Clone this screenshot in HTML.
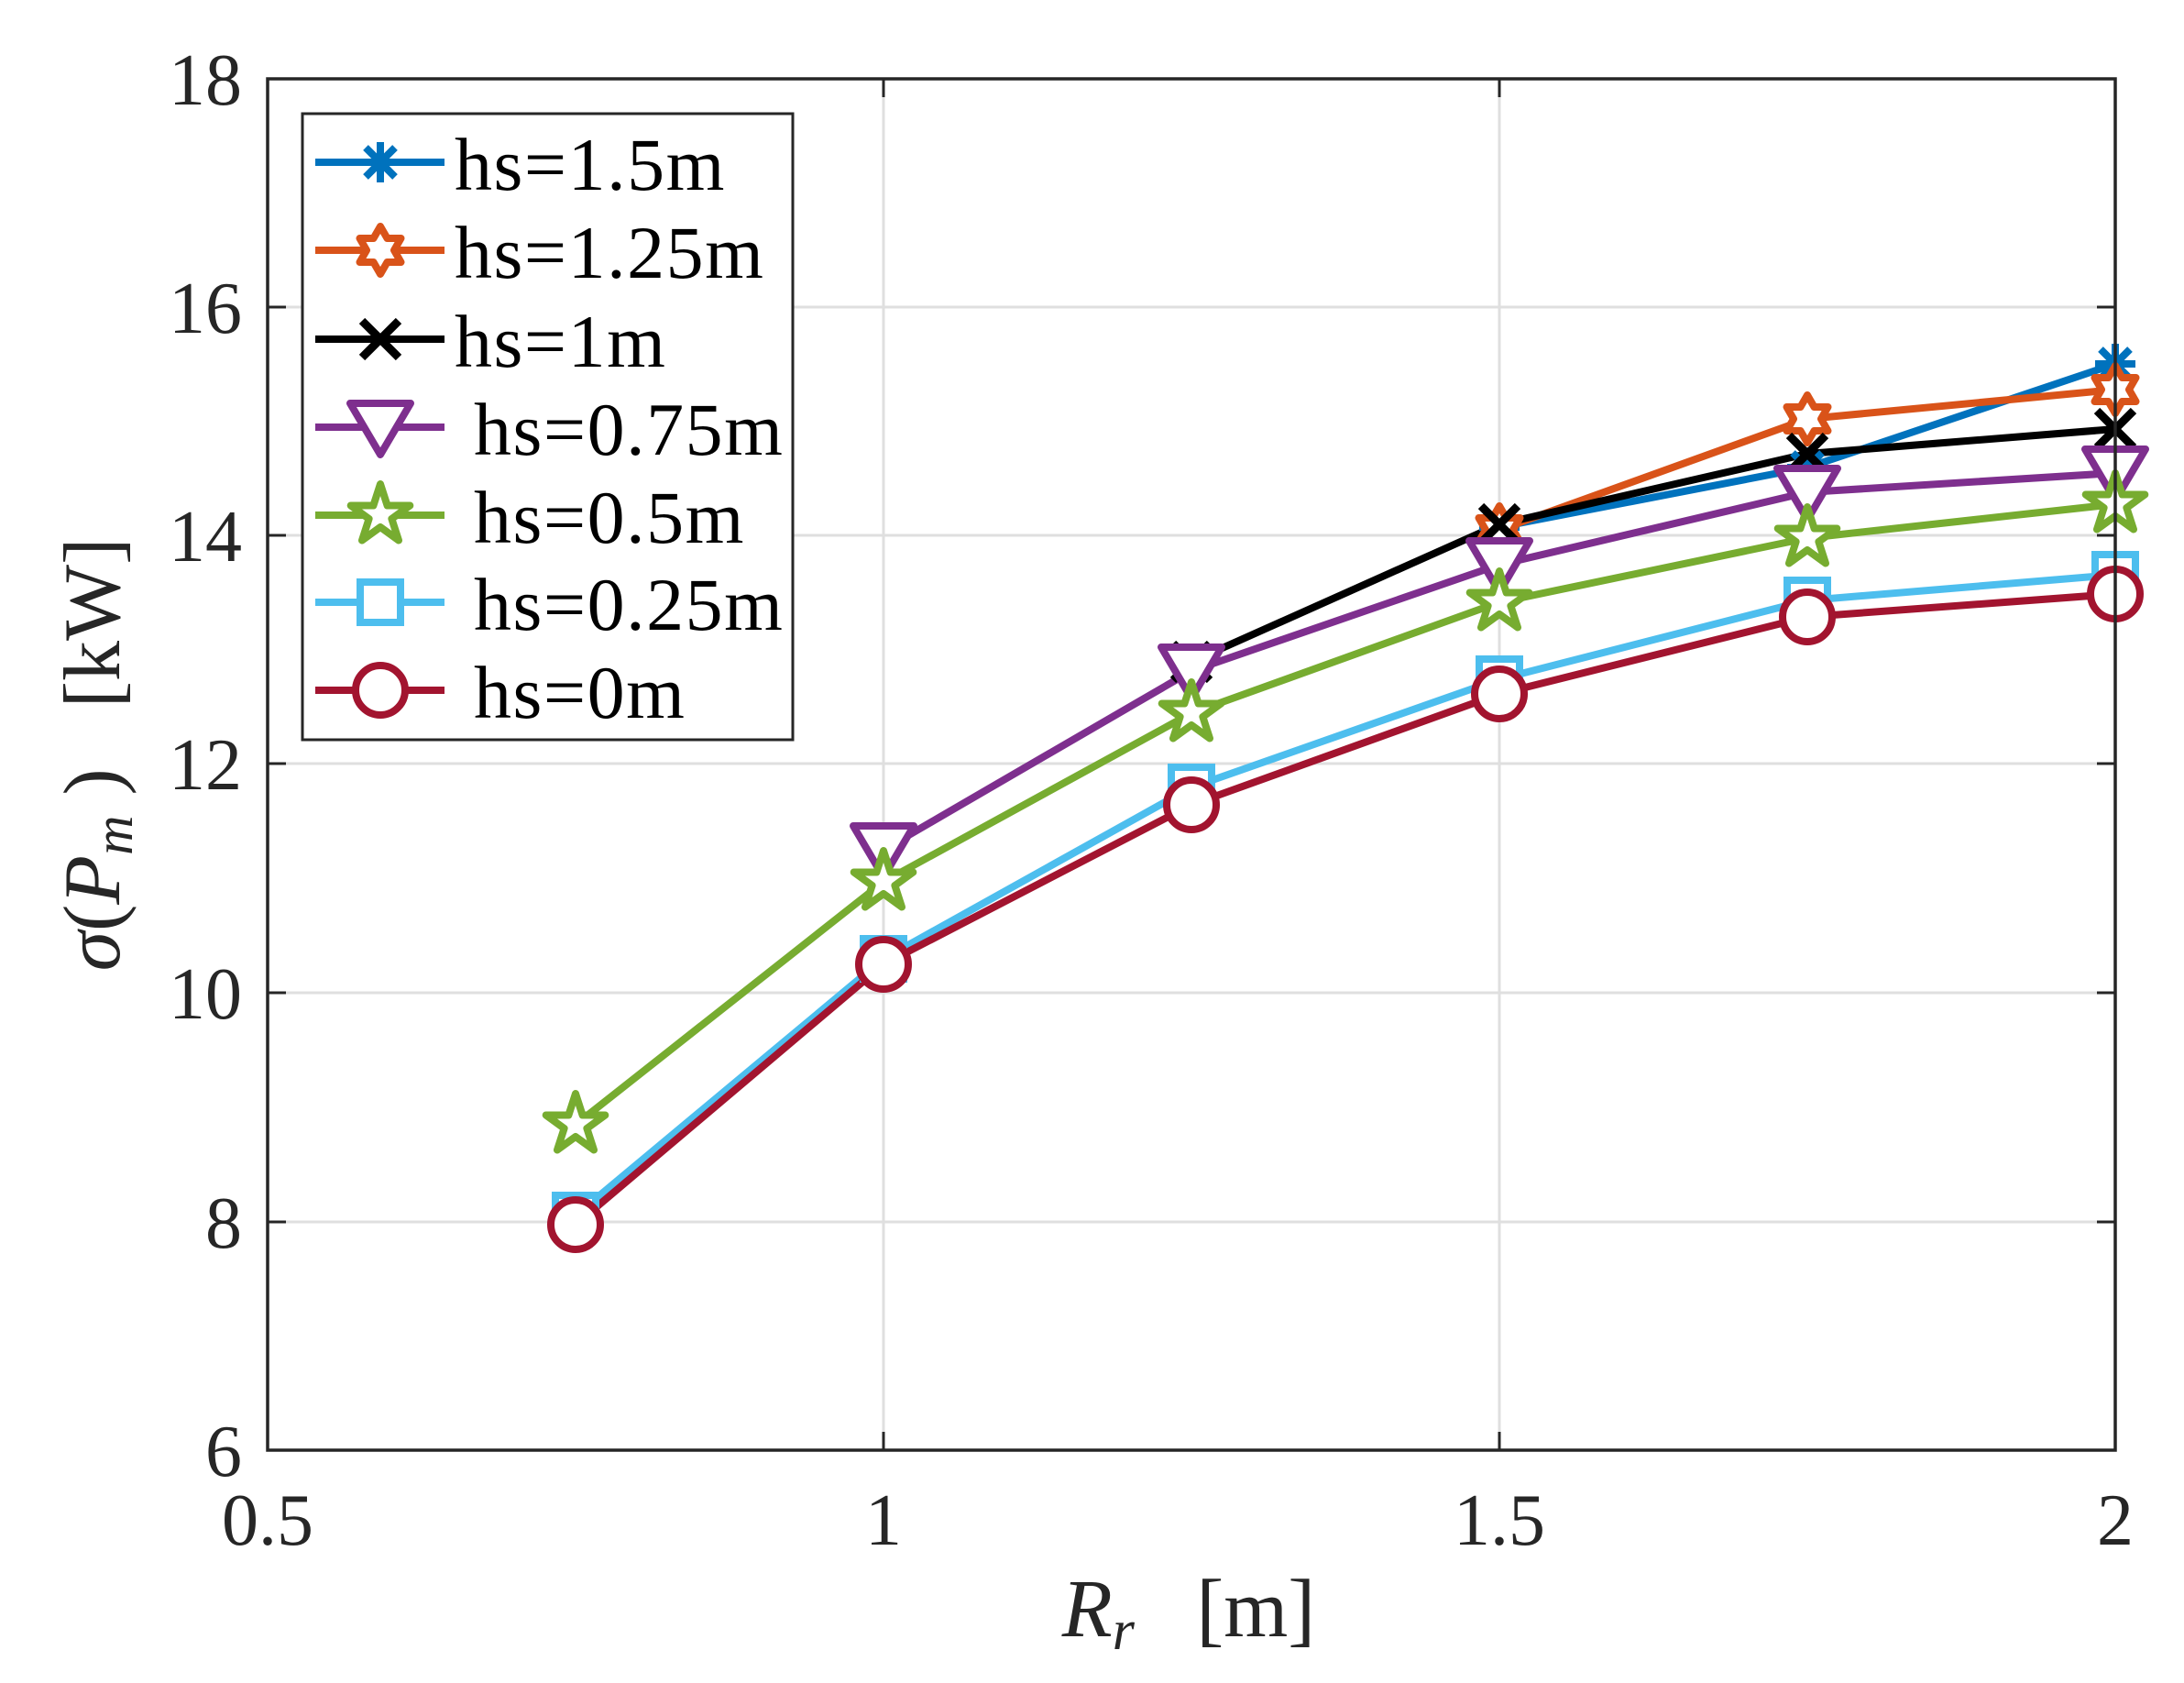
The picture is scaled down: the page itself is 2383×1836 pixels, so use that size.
<!DOCTYPE html>
<html><head><meta charset="utf-8"><style>html,body{margin:0;padding:0;background:#fff}svg{display:block}</style></head>
<body>
<svg width="2383" height="1836" viewBox="0 0 2383 1836" xmlns="http://www.w3.org/2000/svg" font-family="'Liberation Serif', serif">
<defs>
<g id="mAst" stroke="#0072BD" stroke-width="8" fill="none"><path d="M-22,0H22M0,-22V22M-16,-16L16,16M-16,16L16,-16"/></g>
<g id="mHex"><path d="M0,-26 7.5,-13 22.5,-13 15,0 22.5,13 7.5,13 0,26 -7.5,13 -22.5,13 -15,0 -22.5,-13 -7.5,-13Z" fill="#fff" stroke="#D95319" stroke-width="8" stroke-linejoin="round"/></g>
<g id="mX" stroke="#000" stroke-width="9" fill="none"><path d="M-20,-20L20,20M-20,20L20,-20"/></g>
<g id="mTri"><path d="M-33,-26 33,-26 0,30Z" fill="#fff" stroke="#7E2F8E" stroke-width="8" stroke-linejoin="round"/></g>
<g id="mPent"><path d="M0,-34 7.6,-10.5 32.3,-10.5 12.4,4 20,27.5 0,13 -20,27.5 -12.4,4 -32.3,-10.5 -7.6,-10.5Z" fill="#fff" stroke="#77AC30" stroke-width="8" stroke-linejoin="round"/></g>
<g id="mSq"><rect x="-22" y="-22" width="44" height="44" fill="#fff" stroke="#4DBEEE" stroke-width="8"/></g>
<g id="mCirc"><circle r="27" fill="#fff" stroke="#A2142F" stroke-width="8"/></g>
</defs>

<rect x="292" y="86" width="2016" height="1496" fill="#fff"/>
<g stroke="#dfdfdf" stroke-width="3">
<line x1="964" y1="86" x2="964" y2="1582"/><line x1="1636" y1="86" x2="1636" y2="1582"/>
<line x1="292" y1="335" x2="2308" y2="335"/><line x1="292" y1="584" x2="2308" y2="584"/>
<line x1="292" y1="833" x2="2308" y2="833"/><line x1="292" y1="1083" x2="2308" y2="1083"/>
<line x1="292" y1="1333" x2="2308" y2="1333"/>
</g>
<g stroke="#262626" stroke-width="3">
<path d="M292,335h20M292,584h20M292,833h20M292,1083h20M292,1333h20M2308,335h-20M2308,584h-20M2308,833h-20M2308,1083h-20M2308,1333h-20"/>
<path d="M964,1582v-20M1636,1582v-20M964,86v20M1636,86v20"/>
</g>

<g fill="none" stroke-width="8" stroke-linejoin="round">
<polyline stroke="#0072BD" points="1636,575 1972,510 2308,397"/>
<polyline stroke="#D95319" points="1636,578 1972,457 2308,425"/>
<polyline stroke="#000" points="1300,722 1636,572 1972,495 2308,468"/>
<polyline stroke="#7E2F8E" points="964,927 1300,732 1636,616 1972,537 2308,516"/>
<polyline stroke="#77AC30" points="628,1227 964,962 1300,778 1636,657 1972,587 2308,550"/>
<polyline stroke="#4DBEEE" points="628,1326 964,1046 1300,859 1636,741 1972,655 2308,627"/>
<polyline stroke="#A2142F" points="628,1336 964,1052 1300,878 1636,757 1972,673 2308,648"/>
</g>
<use href="#mAst" x="1636" y="575"/><use href="#mAst" x="1972" y="510"/><use href="#mAst" x="2308" y="397"/>
<use href="#mHex" x="1636" y="578"/><use href="#mHex" x="1972" y="457"/><use href="#mHex" x="2308" y="425"/>
<use href="#mX" x="1300" y="722"/><use href="#mX" x="1636" y="572"/><use href="#mX" x="1972" y="495"/><use href="#mX" x="2308" y="468"/>
<use href="#mTri" x="964" y="927"/><use href="#mTri" x="1300" y="732"/><use href="#mTri" x="1636" y="616"/><use href="#mTri" x="1972" y="537"/><use href="#mTri" x="2308" y="516"/>
<use href="#mPent" x="628" y="1227"/><use href="#mPent" x="964" y="962"/><use href="#mPent" x="1300" y="778"/><use href="#mPent" x="1636" y="657"/><use href="#mPent" x="1972" y="587"/><use href="#mPent" x="2308" y="550"/>
<use href="#mSq" x="628" y="1326"/><use href="#mSq" x="964" y="1046"/><use href="#mSq" x="1300" y="859"/><use href="#mSq" x="1636" y="741"/><use href="#mSq" x="1972" y="655"/><use href="#mSq" x="2308" y="627"/>
<use href="#mCirc" x="628" y="1336"/><use href="#mCirc" x="964" y="1052"/><use href="#mCirc" x="1300" y="878"/><use href="#mCirc" x="1636" y="757"/><use href="#mCirc" x="1972" y="673"/><use href="#mCirc" x="2308" y="648"/>

<rect x="292" y="86" width="2016" height="1496" fill="none" stroke="#262626" stroke-width="3.5"/>

<g fill="#262626" font-size="80">
<g text-anchor="end">
<text x="264" y="114">18</text><text x="264" y="363">16</text><text x="264" y="612">14</text>
<text x="264" y="861">12</text><text x="264" y="1111">10</text><text x="264" y="1361">8</text><text x="264" y="1610">6</text>
</g>
<g text-anchor="middle">
<text x="292" y="1685">0.5</text><text x="964" y="1685">1</text><text x="1636" y="1685">1.5</text><text x="2308" y="1685">2</text>
</g>
</g>

<text x="1297" y="1785" text-anchor="middle" font-size="90" fill="#262626" xml:space="preserve"><tspan font-style="italic">R</tspan><tspan font-style="italic" font-size="62" dy="14">r</tspan><tspan dy="-14">   [m]</tspan></text>
<text transform="translate(130,823) rotate(-90)" text-anchor="middle" font-size="88" fill="#262626" xml:space="preserve"><tspan font-style="italic">σ</tspan>(<tspan font-style="italic">P</tspan><tspan font-style="italic" font-size="60" dy="14">m</tspan><tspan dy="-14"> )   [kW]</tspan></text>

<rect x="330" y="124" width="535" height="683" fill="#fff" stroke="#262626" stroke-width="3"/>
<g stroke-width="8">
<line x1="344" y1="177" x2="485" y2="177" stroke="#0072BD"/>
<line x1="344" y1="273" x2="485" y2="273" stroke="#D95319"/>
<line x1="344" y1="370" x2="485" y2="370" stroke="#000"/>
<line x1="344" y1="466" x2="485" y2="466" stroke="#7E2F8E"/>
<line x1="344" y1="562" x2="485" y2="562" stroke="#77AC30"/>
<line x1="344" y1="657" x2="485" y2="657" stroke="#4DBEEE"/>
<line x1="344" y1="753" x2="485" y2="753" stroke="#A2142F"/>
</g>
<use href="#mAst" x="415" y="177"/><use href="#mHex" x="415" y="273"/><use href="#mX" x="415" y="370"/>
<use href="#mTri" x="415" y="466"/><use href="#mPent" x="415" y="562"/><use href="#mSq" x="415" y="657"/><use href="#mCirc" x="415" y="753"/>
<g font-size="82" fill="#000" letter-spacing="1.5">
<text x="496" y="207">hs=1.5m</text>
<text x="496" y="303">hs=1.25m</text>
<text x="496" y="400">hs=1m</text>
<text x="517" y="496">hs=0.75m</text>
<text x="517" y="592">hs=0.5m</text>
<text x="517" y="687">hs=0.25m</text>
<text x="517" y="783">hs=0m</text>
</g>
</svg>
</body></html>
